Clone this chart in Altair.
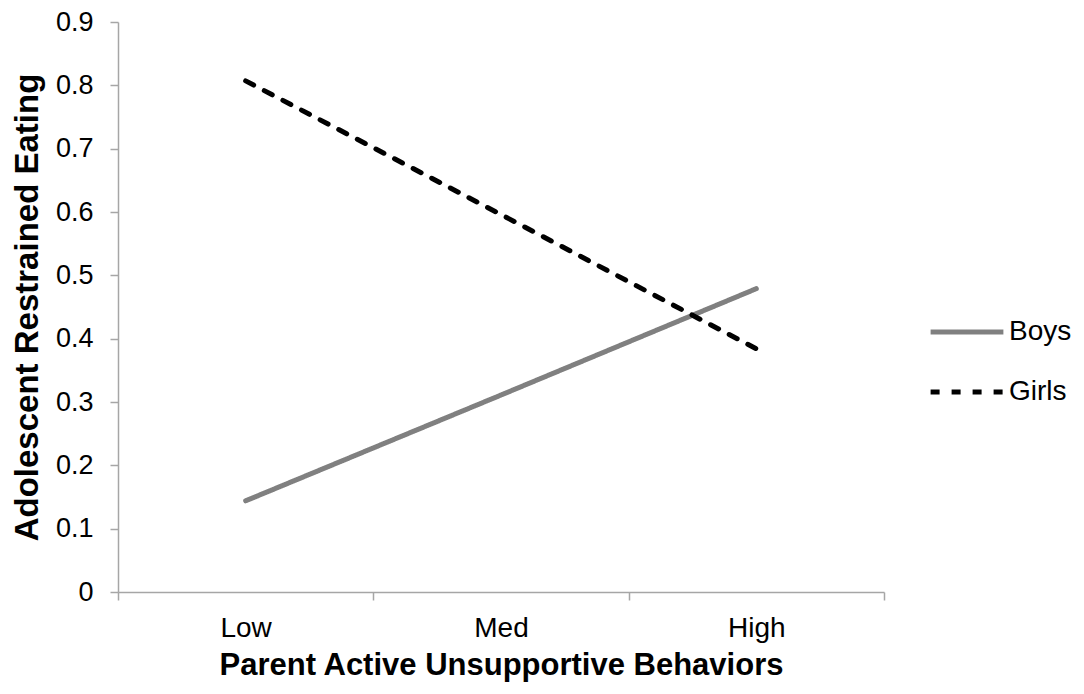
import altair as alt
import pandas as pd

levels = ["Low", "Med", "High"]
series = ["Boys", "Girls"]
boys = [0.144, 0.311, 0.479]
girls = [0.807, 0.596, 0.384]
y_ticks = [0, 0.1, 0.2, 0.3, 0.4, 0.5, 0.6, 0.7, 0.8, 0.9]

rows = []
for s, vals in zip(series, [boys, girls]):
    for lv, v in zip(levels, vals):
        rows.append({"level": lv, "value": v, "group": s})
df = pd.DataFrame(rows)

FONT = "Liberation Sans"
AXIS_GRAY = "#a6a6a6"

leg = dict(
    title=None,
    orient="none",
    legendX=810,
    legendY=271,
    symbolType="stroke",
    symbolSize=5300,
    symbolStrokeWidth=5,
    labelFontSize=28,
    labelOffset=3,
    rowPadding=7,
)

chart = alt.Chart(df).mark_line(strokeWidth=5, strokeCap="round").encode(
    x=alt.X(
        "level:N",
        sort=levels,
        scale=alt.Scale(type="band", paddingInner=0, paddingOuter=0),
        axis=alt.Axis(
            title="Parent Active Unsupportive Behaviors",
            tickBand="extent",
            labelAngle=0,
            labelFontSize=28,
            labelPadding=14,
            titleFontSize=31,
            titleFontWeight="bold",
            titlePadding=8,
            tickSize=8,
        ),
    ),
    y=alt.Y(
        "value:Q",
        scale=alt.Scale(domain=[0, 0.9], nice=False, zero=True),
        axis=alt.Axis(
            title="Adolescent Restrained Eating",
            values=y_ticks,
            format=".1~f",
            labelFontSize=27,
            labelPadding=17,
            titleFontSize=33,
            titleFontWeight="bold",
            titlePadding=11,
            tickSize=8,
            grid=False,
        ),
    ),
    color=alt.Color(
        "group:N",
        scale=alt.Scale(domain=series, range=["#808080", "#000000"]),
        legend=alt.Legend(**leg),
    ),
    strokeDash=alt.StrokeDash(
        "group:N",
        scale=alt.Scale(domain=series, range=[[1, 0], [9, 12]]),
        legend=alt.Legend(**leg),
    ),
).properties(
    width=766,
    height=570,
    autosize=alt.AutoSizeParams(type="none"),
    padding={"left": 110, "top": 14, "right": 192, "bottom": 94},
).configure(
    font=FONT,
).configure_axis(
    labelFont=FONT,
    titleFont=FONT,
    labelColor="#000000",
    titleColor="#000000",
    domainColor=AXIS_GRAY,
    tickColor=AXIS_GRAY,
    domainWidth=1.5,
    tickWidth=1.5,
).configure_legend(
    labelFont=FONT,
    labelColor="#000000",
).configure_view(
    stroke=None,
)

chart.save("out.html", embed_options={"renderer": "svg", "actions": False})
